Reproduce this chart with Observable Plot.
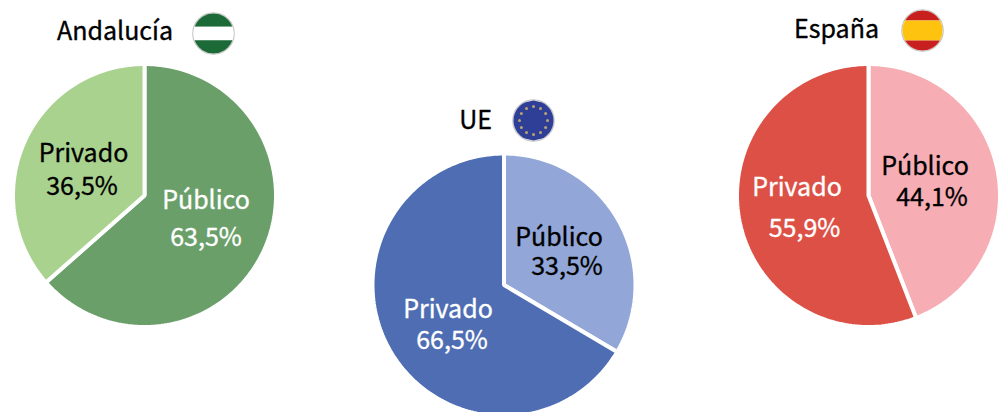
<!DOCTYPE html>
<html><head><meta charset="utf-8">
<style>html,body{margin:0;padding:0;background:#fff;overflow:hidden}svg{display:block}</style>
<script src="https://cdn.jsdelivr.net/npm/d3@7"></script>
<script src="https://cdn.jsdelivr.net/npm/@observablehq/plot@0.6"></script>
</head><body><div id="c"></div>
<script>
// Data
const regions = ["Andalucía", "UE", "España"];
const publico = [63.5, 33.5, 44.1];
const privado = [36.5, 66.5, 55.9];
const labels = ["Público", "Privado"];

// Layout
const centers = [[144, 195], [503.5, 284.5], [868, 195]];
const radius = 131.5;
const fillsOrdered = [["#6a9f6a", "#aad28f"], ["#92a7d8", "#4f6db3"], ["#f6aeb4", "#dc5046"]];
const titlePos = [[114.5, 31], [475, 120], [836, 29]];
const flagPos = [[213, 33], [533, 120], [922, 30]];
const flagR = 20;
// label anchor points: [name x, name y, value x, value y, colour]
const publicoPos = [[205.5, 200, 205.5, 237, "#fff"], [558.5, 237, 566.5, 266, "#000"], [924.5, 166, 931.5, 197, "#000"]];
const privadoPos = [[83, 153, 81.5, 186, "#000"], [447.5, 309, 451.5, 340, "#fff"], [796.5, 187.5, 804, 228, "#fff"]];
const fmt = v => v.toFixed(1).replace(".", ",") + "%";

// slices: polygons computed from the values
const slices = [];
regions.forEach((reg, i) => {
  const arcs = d3.pie().sort(null)([publico[i], privado[i]]);
  arcs.forEach((a, j) => {
    const id = reg + j;
    const [cx, cy] = centers[i];
    slices.push({id, x: cx, y: cy, fill: fillsOrdered[i][j]});
    const n = Math.max(2, Math.ceil((a.endAngle - a.startAngle) * 40));
    for (let k = 0; k <= n; k++) {
      const t = a.startAngle + (a.endAngle - a.startAngle) * k / n;
      slices.push({id, x: cx + radius * Math.sin(t), y: cy - radius * Math.cos(t), fill: fillsOrdered[i][j]});
    }
  });
});

// flags: horizontal bands clipped to the circle
const flagBands = [
  {c: flagPos[0], bands: [[-1, -0.34, "#1d6a39"], [-0.34, 0.34, "#ffffff"], [0.34, 1, "#1d6a39"]]},
  {c: flagPos[1], bands: [[-1, 1, "#2f3f98"]]},
  {c: flagPos[2], bands: [[-1, -0.5, "#c8201f"], [-0.5, 0.5, "#fdc30f"], [0.5, 1, "#c8201f"]]}
];
const bandPts = [];
flagBands.forEach((f, i) => f.bands.forEach(([a, b, col], j) => {
  const id = "f" + i + "-" + j, N = 24;
  for (let k = 0; k <= N; k++) {
    const v = a + (b - a) * k / N;
    bandPts.push({id, col, x: f.c[0] + flagR * Math.sqrt(1 - v * v), y: f.c[1] + flagR * v});
  }
  for (let k = N; k >= 0; k--) {
    const v = a + (b - a) * k / N;
    bandPts.push({id, col, x: f.c[0] - flagR * Math.sqrt(1 - v * v), y: f.c[1] + flagR * v});
  }
}));
const stars = d3.range(12).map(k => ({
  x: flagPos[1][0] + 14 * Math.sin(k * Math.PI / 6),
  y: flagPos[1][1] - 14 * Math.cos(k * Math.PI / 6)
}));

const font = "'Noto Sans CJK SC','Noto Sans',sans-serif";
const textRows = [];
regions.forEach((r, i) => {
  textRows.push({t: r, x: titlePos[i][0], y: titlePos[i][1], c: "#000"});
  const p = publicoPos[i], q = privadoPos[i];
  textRows.push({t: labels[0], x: p[0], y: p[1], c: p[4]});
  textRows.push({t: fmt(publico[i]), x: p[2], y: p[3], c: p[4]});
  textRows.push({t: labels[1], x: q[0], y: q[1], c: q[4]});
  textRows.push({t: fmt(privado[i]), x: q[2], y: q[3], c: q[4]});
});

const chart = Plot.plot({
  width: 999, height: 412,
  margin: 0,
  style: {background: "#fff", fontFamily: font},
  x: {domain: [0, 999], range: [0, 999], axis: null},
  y: {domain: [0, 412], range: [0, 412], axis: null},
  marks: [
    Plot.line(slices, {x: "x", y: "y", z: "id", fill: "fill", stroke: "#fff", strokeWidth: 4,
      curve: "linear-closed", strokeLinejoin: "miter"}),
    Plot.dot(flagPos, {x: d => d[0], y: d => d[1], r: flagR + 0.7, fill: "#fff", stroke: "#c4c4c4", strokeWidth: 1.2}),
    Plot.line(bandPts, {x: "x", y: "y", z: "id", fill: "col", stroke: "none", curve: "linear-closed"}),
    Plot.dot(stars, {x: "x", y: "y", r: 1.5, fill: "#b9a56e", symbol: "circle"}),
    Plot.text(textRows, {x: "x", y: "y", text: "t", fill: "c", fontSize: 25, fontWeight: 400, textAnchor: "middle", lineAnchor: "middle", letterSpacing: 0.5, stroke: "c", strokeWidth: 0.35})
  ]
});
document.getElementById("c").appendChild(chart);
</script></body></html>
